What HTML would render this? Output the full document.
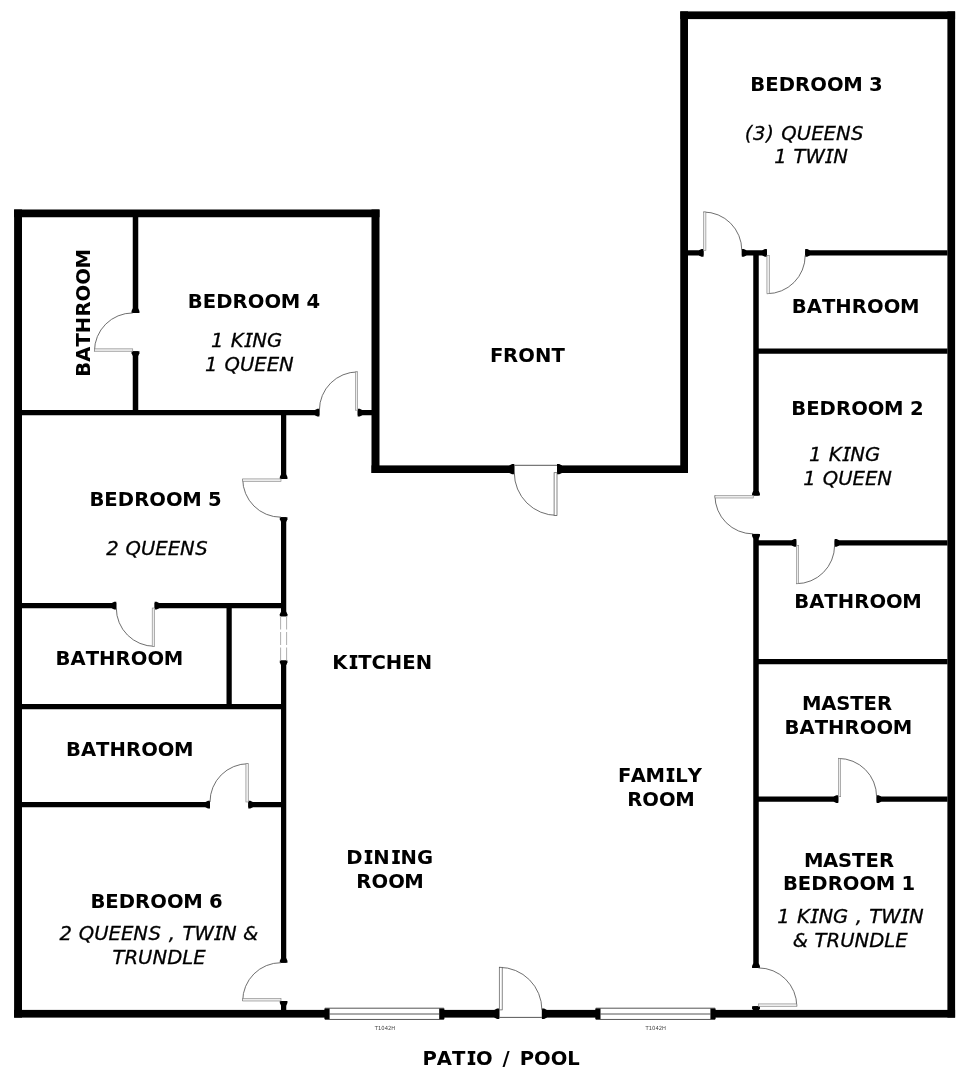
<!DOCTYPE html>
<html lang="en">
<head>
<meta charset="utf-8">
<title>Floor Plan</title>
<style>
html,body{margin:0;padding:0;background:#fff;}
body{width:960px;height:1069px;overflow:hidden;}
svg{display:block;will-change:transform;}
.w{fill:#000;}
.arc{fill:none;stroke:#555;stroke-width:.85;}
.leaf{fill:#ececec;stroke:#808080;stroke-width:.6;}
.leaf2{fill:#fff;stroke:#555;stroke-width:.7;}
.thr{fill:none;stroke:#444;stroke-width:.9;}
.win{fill:#fff;stroke:#444;stroke-width:.8;}
.winl{fill:none;stroke:#555;stroke-width:1;}
.dash{fill:none;stroke:#999;stroke-width:.8;stroke-dasharray:13 2.5;}
text{font-family:"DejaVu Sans","Liberation Sans",sans-serif;fill:#000;font-feature-settings:"salt" 1;}
.b{font-weight:bold;font-size:19.6px;}
.i{font-style:italic;font-size:19.6px;stroke:#000;stroke-width:.3px;}
.t{font-size:5.6px;fill:#444;}
</style>
</head>
<body>
<svg width="960" height="1069" viewBox="0 0 960 1069">
<rect x="0" y="0" width="960" height="1069" fill="#fff"/>
<rect class="w" x="14.1" y="209.5" width="7.9" height="808.1"/>
<rect class="w" x="14.1" y="209.5" width="365.4" height="7.75"/>
<rect class="w" x="371.5" y="209.5" width="8" height="263.5"/>
<rect class="w" x="371.5" y="465.4" width="142.8" height="7.6"/>
<polygon class="w" points="514.3,464.1 512.05,464.1 509.3,465.4 509.3,473 512.05,474.3 514.3,474.3"/>
<polygon class="w" points="557,464.1 559.25,464.1 562,465.4 562,473 559.25,474.3 557,474.3"/>
<rect class="w" x="557" y="465.4" width="131" height="7.6"/>
<rect class="w" x="680.25" y="11.4" width="7.75" height="461.6"/>
<rect class="w" x="680.25" y="11.4" width="274.85" height="7.7"/>
<rect class="w" x="947.4" y="11.4" width="7.7" height="1006.2"/>
<rect class="w" x="14.1" y="1009.9" width="310.9" height="7.7"/>
<rect class="w" x="444" y="1009.9" width="55.3" height="7.7"/>
<polygon class="w" points="499.3,1008.6 497.05,1008.6 494.3,1009.9 494.3,1017.6 497.05,1018.9 499.3,1018.9"/>
<polygon class="w" points="541.9,1008.6 544.15,1008.6 546.9,1009.9 546.9,1017.6 544.15,1018.9 541.9,1018.9"/>
<rect class="w" x="541.9" y="1009.9" width="54.1" height="7.7"/>
<rect class="w" x="715" y="1009.9" width="240.1" height="7.7"/>
<rect class="w" x="132.75" y="217" width="5.5" height="95.9"/>
<polygon class="w" points="131.55,312.9 131.55,310.875 132.75,308.4 138.25,308.4 139.45,310.875 139.45,312.9"/>
<polygon class="w" points="131.55,351.25 131.55,353.275 132.75,355.75 138.25,355.75 139.45,353.275 139.45,351.25"/>
<rect class="w" x="132.75" y="351.25" width="5.5" height="59.25"/>
<rect class="w" x="22" y="410" width="297.4" height="5.25"/>
<polygon class="w" points="319.4,408.8 317.375,408.8 314.9,410 314.9,415.25 317.375,416.45 319.4,416.45"/>
<polygon class="w" points="357.7,408.8 359.725,408.8 362.2,410 362.2,415.25 359.725,416.45 357.7,416.45"/>
<rect class="w" x="357.7" y="410" width="14.3" height="5.25"/>
<rect class="w" x="281" y="415" width="5.25" height="63.9"/>
<polygon class="w" points="279.8,478.9 279.8,476.875 281,474.4 286.25,474.4 287.45,476.875 287.45,478.9"/>
<polygon class="w" points="279.8,517.2 279.8,519.225 281,521.7 286.25,521.7 287.45,519.225 287.45,517.2"/>
<rect class="w" x="281" y="517.2" width="5.25" height="99.1"/>
<polygon class="w" points="279.8,616.3 279.8,614.275 281,611.8 286.25,611.8 287.45,614.275 287.45,616.3"/>
<polygon class="w" points="279.8,660.5 279.8,662.525 281,665 286.25,665 287.45,662.525 287.45,660.5"/>
<rect class="w" x="281" y="660.5" width="5.25" height="302.2"/>
<polygon class="w" points="279.8,962.7 279.8,960.675 281,958.2 286.25,958.2 287.45,960.675 287.45,962.7"/>
<polygon class="w" points="279.8,1001 279.8,1003.02 281,1005.5 286.25,1005.5 287.45,1003.02 287.45,1001"/>
<rect class="w" x="281" y="1001" width="5.25" height="9.5"/>
<rect class="w" x="22" y="603" width="94.3" height="5.25"/>
<polygon class="w" points="116.3,601.8 114.275,601.8 111.8,603 111.8,608.25 114.275,609.45 116.3,609.45"/>
<polygon class="w" points="154.6,601.8 156.625,601.8 159.1,603 159.1,608.25 156.625,609.45 154.6,609.45"/>
<rect class="w" x="154.6" y="603" width="126.4" height="5.25"/>
<rect class="w" x="226.5" y="608" width="5.25" height="96.5"/>
<rect class="w" x="22" y="704" width="259" height="5.25"/>
<rect class="w" x="22" y="802" width="188" height="5.25"/>
<polygon class="w" points="210,800.8 207.975,800.8 205.5,802 205.5,807.25 207.975,808.45 210,808.45"/>
<polygon class="w" points="248.3,800.8 250.325,800.8 252.8,802 252.8,807.25 250.325,808.45 248.3,808.45"/>
<rect class="w" x="248.3" y="802" width="32.7" height="5.25"/>
<rect class="w" x="753.25" y="255" width="5.5" height="240.6"/>
<polygon class="w" points="752.05,495.6 752.05,493.575 753.25,491.1 758.75,491.1 759.95,493.575 759.95,495.6"/>
<polygon class="w" points="752.05,533.9 752.05,535.925 753.25,538.4 758.75,538.4 759.95,535.925 759.95,533.9"/>
<rect class="w" x="753.25" y="533.9" width="5.5" height="434"/>
<polygon class="w" points="752.05,967.9 752.05,965.875 753.25,963.4 758.75,963.4 759.95,965.875 759.95,967.9"/>
<polygon class="w" points="752.05,1006.2 752.05,1008.23 753.25,1010.7 758.75,1010.7 759.95,1008.23 759.95,1006.2"/>
<rect class="w" x="753.25" y="1006.2" width="5.5" height="4.3"/>
<rect class="w" x="688" y="250.25" width="15.5" height="5.25"/>
<polygon class="w" points="703.5,249.05 701.475,249.05 699,250.25 699,255.5 701.475,256.7 703.5,256.7"/>
<polygon class="w" points="741.8,249.05 743.825,249.05 746.3,250.25 746.3,255.5 743.825,256.7 741.8,256.7"/>
<rect class="w" x="741.8" y="250.25" width="25.1" height="5.25"/>
<polygon class="w" points="766.9,249.05 764.875,249.05 762.4,250.25 762.4,255.5 764.875,256.7 766.9,256.7"/>
<polygon class="w" points="805.2,249.05 807.225,249.05 809.7,250.25 809.7,255.5 807.225,256.7 805.2,256.7"/>
<rect class="w" x="805.2" y="250.25" width="142.3" height="5.25"/>
<rect class="w" x="758" y="348.5" width="189.5" height="5.25"/>
<rect class="w" x="758" y="540.25" width="38.3" height="5.25"/>
<polygon class="w" points="796.3,539.05 794.275,539.05 791.8,540.25 791.8,545.5 794.275,546.7 796.3,546.7"/>
<polygon class="w" points="834.6,539.05 836.625,539.05 839.1,540.25 839.1,545.5 836.625,546.7 834.6,546.7"/>
<rect class="w" x="834.6" y="540.25" width="112.9" height="5.25"/>
<rect class="w" x="758" y="659" width="189.5" height="5.25"/>
<rect class="w" x="758" y="796.5" width="80.3" height="5.25"/>
<polygon class="w" points="838.3,795.3 836.275,795.3 833.8,796.5 833.8,801.75 836.275,802.95 838.3,802.95"/>
<polygon class="w" points="876.6,795.3 878.625,795.3 881.1,796.5 881.1,801.75 878.625,802.95 876.6,802.95"/>
<rect class="w" x="876.6" y="796.5" width="70.9" height="5.25"/>
<path class="arc" d="M94.45 351.25A38.3 38.3 0 0 1 132.75 312.95"/>
<rect class="leaf" x="94.45" y="348.85" width="38.3" height="2.4"/>
<path class="arc" d="M357.7 371.9A38.3 38.3 0 0 0 319.4 410.2"/>
<rect class="leaf" x="355.3" y="371.9" width="2.4" height="38.3"/>
<path class="arc" d="M242.7 478.9A38.3 38.3 0 0 0 281 517.2"/>
<rect class="leaf" x="242.7" y="478.9" width="38.3" height="2.4"/>
<path class="arc" d="M154.6 646.3A38.3 38.3 0 0 1 116.3 608"/>
<rect class="leaf" x="152.2" y="608" width="2.4" height="38.3"/>
<path class="arc" d="M248.3 763.7A38.3 38.3 0 0 0 210 802"/>
<rect class="leaf" x="245.9" y="763.7" width="2.4" height="38.3"/>
<path class="arc" d="M242.7 1001A38.3 38.3 0 0 1 281 962.7"/>
<rect class="leaf" x="242.7" y="998.6" width="38.3" height="2.4"/>
<path class="arc" d="M499.3 967.3A42.6 42.6 0 0 1 541.9 1009.9"/>
<rect class="leaf2" x="499.3" y="967.3" width="2.9" height="42.6"/>
<path class="thr" d="M499.3 1017.4H541.9"/>
<path class="arc" d="M796.8 1006.3A38.4 38.4 0 0 0 758.4 967.9"/>
<rect class="leaf" x="758.4" y="1003.9" width="38.4" height="2.4"/>
<path class="arc" d="M838.3 758.4A38.3 38.3 0 0 1 876.6 796.7"/>
<rect class="leaf" x="838.3" y="758.4" width="2.4" height="38.3"/>
<path class="arc" d="M796.3 583.7A38.3 38.3 0 0 0 834.6 545.4"/>
<rect class="leaf" x="796.3" y="545.4" width="2.4" height="38.3"/>
<path class="arc" d="M714.95 495.6A38.3 38.3 0 0 0 753.25 533.9"/>
<rect class="leaf" x="714.95" y="495.6" width="38.3" height="2.4"/>
<path class="arc" d="M703.5 212A38.3 38.3 0 0 1 741.8 250.3"/>
<rect class="leaf" x="703.5" y="212" width="2.4" height="38.3"/>
<path class="arc" d="M766.9 293.7A38.3 38.3 0 0 0 805.2 255.4"/>
<rect class="leaf" x="766.9" y="255.4" width="2.4" height="38.3"/>
<path class="arc" d="M557 515.4A42.7 42.7 0 0 1 514.3 472.7"/>
<rect class="leaf2" x="554.1" y="472.7" width="2.9" height="42.7"/>
<path class="thr" d="M514.3 465.3H557"/>
<rect x="325.4" y="1008.2" width="118" height="11.25" fill="#fff"/>
<path class="winl" d="M324.9 1008.2H443.9M329.6 1014H439.2M324.9 1019.45H443.9"/>
<rect class="w" x="324.4" y="1008.5" width="5.2" height="10.65"/>
<rect class="w" x="439.2" y="1008.5" width="5.2" height="10.65"/>
<rect x="596.3" y="1008.2" width="118.3" height="11.25" fill="#fff"/>
<path class="winl" d="M595.8 1008.2H715.1M600.5 1014H710.4M595.8 1019.45H715.1"/>
<rect class="w" x="595.3" y="1008.5" width="5.2" height="10.65"/>
<rect class="w" x="710.4" y="1008.5" width="5.2" height="10.65"/>
<path class="dash" d="M280.6 616.5V660.5M286.6 616.5V660.5"/>
<text class="b" x="750.35 765.29 778.67 795.06 810.27 826.93 843.13 862.11 869.02" y="90.6">BEDROOM 3</text>
<text class="i" x="744.82 753.09 766.18 774.79 781.35 796.78 811.13 823.51 835.90 851.04" y="140">(3) QUEENS</text>
<text class="i" x="774.16 786.97 793.58 805.61 825.07 833.24" y="163.4">1 TWIN</text>
<text class="b" x="791.81 806.76 821.95 835.32 851.84 867.05 883.71 899.91" y="313">BATHROOM</text>
<text class="b" x="791.22 806.16 819.54 835.93 851.14 867.80 884.00 902.98 909.89" y="415">BEDROOM 2</text>
<text class="i" x="809.11 821.91 828.84 842.14 850.31 864.97" y="461.25">1 KING</text>
<text class="i" x="803.37 816.17 822.74 838.16 852.51 864.90 877.28" y="485">1 QUEEN</text>
<text class="b" x="794.18 809.14 824.33 837.70 854.22 869.43 886.09 902.28" y="607.6">BATHROOM</text>
<text class="b" x="802.07 821.13 836.22 850.23 863.60 877.11" y="709.9">MASTER</text>
<text class="b" x="784.56 799.51 814.70 828.07 844.59 859.80 876.46 892.66" y="733.75">BATHROOM</text>
<text class="b" x="803.94 823.00 838.09 852.11 865.48 878.98" y="867.25">MASTER</text>
<text class="b" x="782.92 797.86 811.24 827.63 842.84 859.50 875.70 894.68 901.59" y="890.25">BEDROOM 1</text>
<text class="i" x="777.23 790.03 796.96 810.26 818.43 833.09 848.62 855.63 862.65 869.27 881.29 900.75 908.93" y="923.25">1 KING , TWIN</text>
<text class="i" x="792.78 807.88 814.50 826.52 840.15 854.49 869.16 884.26 895.18" y="946.5">&amp; TRUNDLE</text>
<text class="b" x="490.08 502.96 518.17 534.93 551.43" y="362.3">FRONT</text>
<text class="b" x="187.87 202.81 216.19 232.58 247.79 264.45 280.65 299.63 306.54" y="307.5">BEDROOM 4</text>
<text class="i" x="211.11 223.91 230.84 244.14 252.31 266.97" y="346.9">1 KING</text>
<text class="i" x="205.12 217.92 224.49 239.91 254.26 266.65 279.03" y="370.5">1 QUEEN</text>
<text class="b" x="89.43 104.37 117.75 134.14 149.35 166.01 182.21 201.19 208.10" y="506.4">BEDROOM 5</text>
<text class="i" x="106.16 118.96 125.52 140.95 155.30 167.68 180.07 195.21" y="554.9">2 QUEENS</text>
<text class="b" x="55.56 70.51 85.70 99.07 115.59 130.80 147.46 163.66" y="665.25">BATHROOM</text>
<text class="b" x="65.93 80.89 96.08 109.45 125.97 141.18 157.84 174.03" y="756.3">BATHROOM</text>
<text class="b" x="90.40 105.33 118.72 135.11 150.31 166.97 183.17 202.16 209.07" y="908">BEDROOM 6</text>
<text class="i" x="59.42 72.23 78.79 94.22 108.57 120.95 133.34 148.48 161.74 168.76 175.77 182.39 194.41 213.88 222.05 237.04 243.09" y="940">2 QUEENS , TWIN &amp;</text>
<text class="i" x="112.46 124.49 138.11 152.46 167.13 182.23 193.15" y="964">TRUNDLE</text>
<text class="b" x="332.33 348.61 358.18 371.45 385.74 402.14 415.63" y="669.25">KITCHEN</text>
<text class="b" x="346.19 363.58 373.26 390.89 400.56 416.97" y="864.25">DINING</text>
<text class="b" x="356.26 371.47 388.13 404.33" y="887.5">ROOM</text>
<text class="b" x="617.90 630.68 645.41 665.58 675.15 687.77" y="781.8">FAMILY</text>
<text class="b" x="627.13 642.34 659.00 675.20" y="805.75">ROOM</text>
<text class="b" x="422.43 436.81 452.00 466.49 476.07 492.67 502.61 512.88 519.64 534.01 550.67 567.33" y="1065.25">PATIO / POOL</text>
<text class="b" x="-63.57 -48.61 -33.42 -20.05 -3.53 11.68 28.34 44.53" y="0" transform="translate(89.5 313.1) rotate(-90)">BATHROOM</text>
<text class="t" x="374.8" y="1030.4" textLength="20.4" lengthAdjust="spacingAndGlyphs">T1042H</text>
<text class="t" x="645.6" y="1030.4" textLength="20.4" lengthAdjust="spacingAndGlyphs">T1042H</text>
</svg>
</body>
</html>
